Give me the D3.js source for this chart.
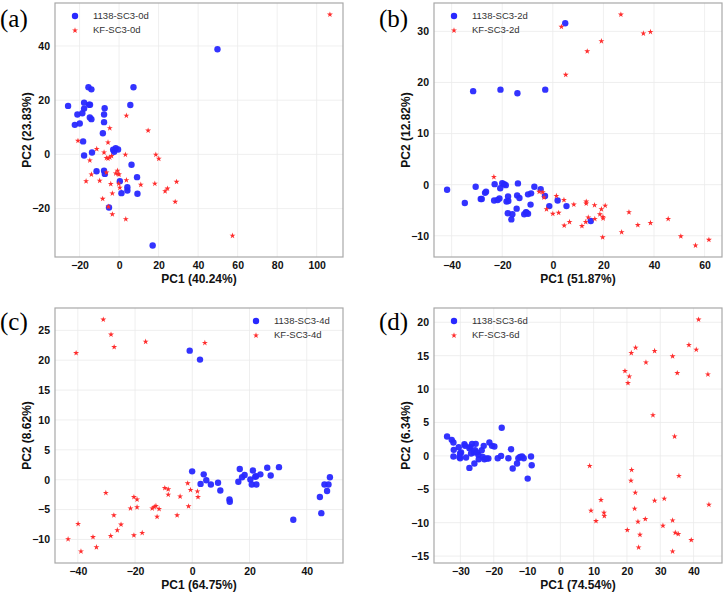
<!DOCTYPE html>
<html>
<head>
<meta charset="utf-8">
<script src="https://cdn.jsdelivr.net/npm/d3@7"></script>
<style>
  body { margin: 0; background: #fff; }
  svg { display: block; font-family: "Liberation Sans", Arial, sans-serif; }
</style>
</head>
<body>
<div id="chart"></div>
<script>
// ---- data (PC1, PC2) ----
const blue0d = [[-25.8,17.9],[-22.4,10.9],[-21.1,14.7],[-19.9,11.4],[-18.6,15.2],[-18.2,4.8],[-17.7,19.1],[-17.7,16.9],[-17.7,-0.4],[-15.5,24.8],[-15.2,18.3],[-14.7,18.3],[-14.8,13.6],[-14.0,24.0],[-14.0,13.0],[-13.7,0.7],[-11.4,-6.2],[-8.2,7.8],[-7.6,11.9],[-7.6,14.7],[-7.3,17.0],[-7.6,-6.0],[-7.2,-7.2],[-5.1,-19.6],[-3.0,1.7],[-2.5,1.0],[-1.7,2.3],[-0.5,1.8],[0.4,-9.9],[1.2,-14.3],[4.2,-12.1],[4.2,-13.3],[5.7,18.2],[6.3,-3.8],[7.3,24.8],[9.1,-8.4],[9.3,-14.5],[17.0,-33.6],[49.8,38.8]];
const red0d = [[-20.8,5.0],[-16.7,-9.9],[-14.8,-2.2],[-14.0,-7.4],[-11.3,2.0],[-9.8,-9.7],[-8.3,-16.4],[-7.6,0.7],[-6.4,-1.3],[-6.4,-6.7],[-5.6,-1.5],[-5.6,4.4],[-5.4,-19.3],[-4.7,-1.1],[-4.7,9.7],[-4.2,-10.9],[-3.8,-0.6],[-3.4,-14.4],[-3.4,-22.1],[-1.7,-7.0],[-0.8,-6.0],[-0.5,-7.2],[0.0,-7.4],[-0.2,-10.8],[0.4,-12.3],[3.2,-0.1],[3.7,14.3],[3.7,-9.5],[3.4,-23.9],[11.0,-11.2],[14.7,8.8],[18.1,-10.8],[18.6,-0.1],[20.1,-1.6],[23.3,-13.6],[24.5,-12.6],[28.4,-17.5],[29.1,-10.1],[57.4,-30.0],[106.7,51.6]];

const blue2d = [[-41.8,-1.0],[-34.8,-3.6],[-31.5,18.3],[-30.5,-0.4],[-28.5,-2.8],[-28.1,-2.8],[-26.8,-1.6],[-26.4,-1.4],[-23.2,-3.1],[-23.0,0.1],[-21.8,-3.0],[-21.1,-2.7],[-20.7,18.6],[-20.8,-0.7],[-20.0,0.3],[-19.2,0.1],[-18.6,-0.1],[-18.3,-3.3],[-17.8,-5.6],[-17.7,-2.3],[-17.6,-3.2],[-16.4,-6.8],[-16.0,-5.8],[-14.3,-4.7],[-14.0,17.9],[-13.8,0.25],[-14.1,-2.1],[-13.2,-2.6],[-11.3,-5.8],[-10.6,-5.4],[-10.4,-5.5],[-9.8,-5.7],[-9.8,-1.9],[-8.8,-3.9],[-8.6,-1.7],[-7.3,-0.4],[-4.8,-0.9],[-3.1,-2.2],[-3.0,18.6],[-1.4,-4.2],[1.9,-3.1],[4.9,31.6],[5.4,-4.2],[15.0,-7.1]];
const red2d = [[-23.3,1.5],[-5.4,-1.4],[-4.0,-1.5],[-3.5,-2.5],[-2.5,-4.8],[0.0,-5.7],[1.4,-2.2],[2.3,-5.5],[4.4,-3.0],[4.5,-8.0],[6.6,-7.3],[8.3,-3.9],[11.5,-8.1],[13.0,-7.3],[13.2,-3.3],[13.2,-3.7],[14.0,-6.4],[16.5,-4.0],[16.6,-6.7],[18.6,-5.8],[19.2,-4.8],[19.8,-6.3],[19.9,-6.6],[20.7,-4.1],[19.7,-10.3],[27.2,-9.3],[30.1,-5.4],[33.6,-7.9],[38.6,-7.5],[45.6,-6.7],[50.6,-10.1],[56.4,-11.9],[61.7,-10.8],[3.4,30.9],[5.1,21.5],[13.6,26.1],[19.2,28.1],[26.9,33.3],[35.8,29.6],[38.6,29.9]];

const blue4d = [[-0.9,21.6],[2.7,20.1],[-0.05,1.4],[4.0,0.9],[2.9,-0.7],[4.9,-0.1],[6.5,-0.8],[9.0,-0.5],[9.8,-1.8],[13.0,-3.3],[13.1,-3.7],[16.6,1.8],[16.1,-0.35],[17.4,0.4],[18.3,0.8],[20.3,0.05],[21.2,1.55],[22.0,0.5],[22.3,0.6],[20.8,-0.8],[22.4,-0.8],[23.8,0.9],[26.2,2.0],[27.4,0.7],[30.3,2.1],[35.3,-6.7],[44.6,-2.9],[45.1,-5.6],[46.2,-0.8],[47.6,-0.8],[47.1,-1.9],[48.1,0.4]];
const red4d = [[-31.1,26.8],[-28.4,24.3],[-27.3,22.2],[-16.3,23.1],[-40.6,21.2],[4.4,22.9],[-30.2,-2.2],[-39.9,-7.4],[-43.4,-9.95],[-38.9,-12.0],[-34.7,-9.6],[-33.5,-11.3],[-28.5,-9.4],[-27.4,-5.95],[-26.2,-8.45],[-24.9,-7.5],[-21.6,-4.8],[-20.4,-2.9],[-20.4,-9.3],[-19.3,-3.3],[-19.3,-4.6],[-17.5,-8.9],[-14.0,-4.8],[-13.3,-4.55],[-12.7,-4.4],[-11.6,-4.9],[-12.3,-6.2],[-9.6,-1.4],[-8.4,-1.6],[-8.4,-2.5],[-5.3,-5.95],[-4.25,-2.8],[-1.6,-0.6],[-1.3,-4.45],[-0.6,-1.7],[1.8,-1.95],[2.0,-2.9]];

const blue6d = [[-34.0,2.9],[-32.6,2.4],[-32.1,2.0],[-32.0,0.9],[-32.1,-0.1],[-30.5,1.3],[-30.1,0.35],[-29.8,0.5],[-30.1,-0.35],[-30.3,-0.15],[-28.8,1.75],[-28.6,1.5],[-28.3,-0.25],[-27.3,1.15],[-27.0,1.35],[-26.5,1.8],[-26.8,0.35],[-27.3,-1.8],[-26.0,0.5],[-25.6,0.85],[-25.4,1.8],[-25.8,-1.15],[-25.0,0.5],[-24.6,0.15],[-24.5,-0.5],[-23.6,0.85],[-23.3,-0.15],[-23.0,1.5],[-22.8,-0.5],[-22.1,-0.4],[-21.6,-0.4],[-21.3,2.0],[-20.5,1.5],[-19.8,1.4],[-18.8,-0.35],[-17.8,0.0],[-17.6,4.2],[-14.8,1.0],[-15.6,-0.35],[-14.3,-1.9],[-13.0,-1.15],[-12.6,-0.35],[-12.1,-0.15],[-11.5,-0.1],[-11.0,-0.35],[-9.8,-3.4],[-8.8,-0.1],[-8.6,-1.4]];
const red6d = [[41.5,20.4],[38.6,16.6],[40.8,15.9],[33.7,14.9],[22.6,16.2],[21.3,15.4],[28.3,15.7],[25.7,14.0],[19.4,12.7],[20.7,11.9],[20.3,10.9],[35.1,12.4],[44.3,12.2],[27.8,6.1],[34.3,2.9],[8.8,-1.5],[21.4,-2.1],[35.6,-3.0],[21.2,-3.7],[22.5,-5.5],[12.2,-6.6],[28.3,-6.7],[31.2,-6.4],[44.6,-7.3],[9.2,-8.2],[13.1,-8.5],[13.2,-9.0],[22.3,-7.9],[10.7,-9.75],[25.5,-9.45],[23.3,-9.85],[33.7,-9.65],[20.1,-11.1],[30.8,-10.45],[23.9,-11.8],[34.5,-11.5],[35.4,-11.7],[39.3,-12.6],[23.5,-13.7],[33.7,-14.3]];

const panelTags = ["(a)", "(b)", "(c)", "(d)"];
const seriesNames = [["1138-SC3-0d","KF-SC3-0d"],["1138-SC3-2d","KF-SC3-2d"],["1138-SC3-4d","KF-SC3-4d"],["1138-SC3-6d","KF-SC3-6d"]];
const pc1Labels = ["PC1 (40.24%)", "PC1 (51.87%)", "PC1 (64.75%)", "PC1 (74.54%)"];
const pc2Labels = ["PC2 (23.83%)", "PC2 (12.82%)", "PC2 (8.62%)", "PC2 (6.34%)"];
const xTicks = [[-20,0,20,40,60,80,100],[-40,-20,0,20,40,60],[-40,-20,0,20,40],[-30,-20,-10,0,10,20,30,40]];
const yTicks = [[-20,0,20,40],[-10,0,10,20,30],[-10,-5,0,5,10,15,20,25],[-15,-10,-5,0,5,10,15,20]];
const blueSets = [blue0d, blue2d, blue4d, blue6d];
const redSets = [red0d, red2d, red4d, red6d];

// ---- layout ----
const W = 725, H = 592;
const frames = [
  {l: 55, r: 343, t: 3, b: 257, leg: "left"},
  {l: 434, r: 722, t: 3, b: 257, leg: "left"},
  {l: 55, r: 343, t: 308, b: 563, leg: "right"},
  {l: 434, r: 722, t: 308, b: 563, leg: "left"}
];
const tagPos = [[0, 27], [379, 27], [0, 330], [379, 330]];

const svg = d3.select("#chart").append("svg")
  .attr("width", W).attr("height", H);

const blueCol = "rgb(40,40,255)";
const redCol = "rgb(255,45,45)";
const star = d3.symbol().type(d3.symbolStar).size(11);

function padded(vals) {
  const [lo, hi] = d3.extent(vals);
  const p = (hi - lo) * 0.05;
  return [lo - p, hi + p];
}

frames.forEach((f, i) => {
  const blue = blueSets[i], red = redSets[i];
  const all = blue.concat(red);
  const x = d3.scaleLinear().domain(padded(all.map(d => d[0]))).range([f.l, f.r]);
  const y = d3.scaleLinear().domain(padded(all.map(d => d[1]))).range([f.b, f.t]);

  const g = svg.append("g");

  // grid
  g.append("g").selectAll("line.vx").data(xTicks[i]).join("line")
    .attr("x1", d => x(d)).attr("x2", d => x(d)).attr("y1", f.t).attr("y2", f.b)
    .attr("stroke", "#ebebeb").attr("stroke-width", 0.8);
  g.append("g").selectAll("line.hy").data(yTicks[i]).join("line")
    .attr("y1", d => y(d)).attr("y2", d => y(d)).attr("x1", f.l).attr("x2", f.r)
    .attr("stroke", "#ebebeb").attr("stroke-width", 0.8);

  // axes (labels only, no tick marks)
  const xAxis = d3.axisBottom(x).tickValues(xTicks[i]).tickSize(0).tickPadding(5);
  const yAxis = d3.axisLeft(y).tickValues(yTicks[i]).tickSize(0).tickPadding(5);
  const xg = g.append("g").attr("transform", `translate(0,${f.b})`).call(xAxis);
  const yg = g.append("g").attr("transform", `translate(${f.l},0)`).call(yAxis);
  [xg, yg].forEach(a => {
    a.select(".domain").remove();
    a.selectAll("text").attr("font-size", 10.5).attr("font-weight", "bold")
      .attr("fill", "#111").attr("font-family", "'Liberation Sans', Arial, sans-serif");
  });

  // points
  g.append("g").selectAll("circle").data(blue).join("circle")
    .attr("cx", d => x(d[0])).attr("cy", d => y(d[1])).attr("r", 3.2)
    .attr("fill", blueCol).attr("fill-opacity", 0.95);
  g.append("g").selectAll("path").data(red).join("path")
    .attr("d", star)
    .attr("transform", d => `translate(${x(d[0])},${y(d[1])})`)
    .attr("fill", redCol);

  // frame
  g.append("rect").attr("x", f.l).attr("y", f.t)
    .attr("width", f.r - f.l).attr("height", f.b - f.t)
    .attr("fill", "none").attr("stroke", "#a8a8a8").attr("stroke-width", 1.2);

  // axis titles
  g.append("text").attr("x", (f.l + f.r) / 2).attr("y", f.b + 26)
    .attr("text-anchor", "middle").attr("font-size", 12).attr("font-weight", "bold")
    .attr("fill", "#111").text(pc1Labels[i]);
  g.append("text")
    .attr("transform", `translate(${f.l - 27},${(f.t + f.b) / 2}) rotate(-90)`)
    .attr("text-anchor", "middle").attr("dominant-baseline", "middle")
    .attr("font-size", 12).attr("font-weight", "bold")
    .attr("fill", "#111").text(pc2Labels[i]);

  // legend
  const lx = f.leg === "left" ? f.l + 20 : f.r - 87;
  const ly = f.t + 13;
  const leg = g.append("g").attr("transform", `translate(${lx},${ly})`);
  leg.append("circle").attr("cx", 0).attr("cy", 0).attr("r", 3.2).attr("fill", blueCol);
  leg.append("path").attr("d", star).attr("transform", "translate(0,14.5)").attr("fill", redCol);
  leg.selectAll("text").data(seriesNames[i]).join("text")
    .attr("x", 18).attr("y", (d, k) => k * 14.5)
    .attr("dominant-baseline", "middle").attr("font-size", 9.5).attr("fill", "#333")
    .text(d => d);

  // panel tag
  svg.append("text").attr("x", tagPos[i][0]).attr("y", tagPos[i][1])
    .attr("font-family", "'Liberation Serif', 'Times New Roman', serif")
    .attr("font-size", 25).attr("fill", "#000").text(panelTags[i]);
});
</script>
</body>
</html>
